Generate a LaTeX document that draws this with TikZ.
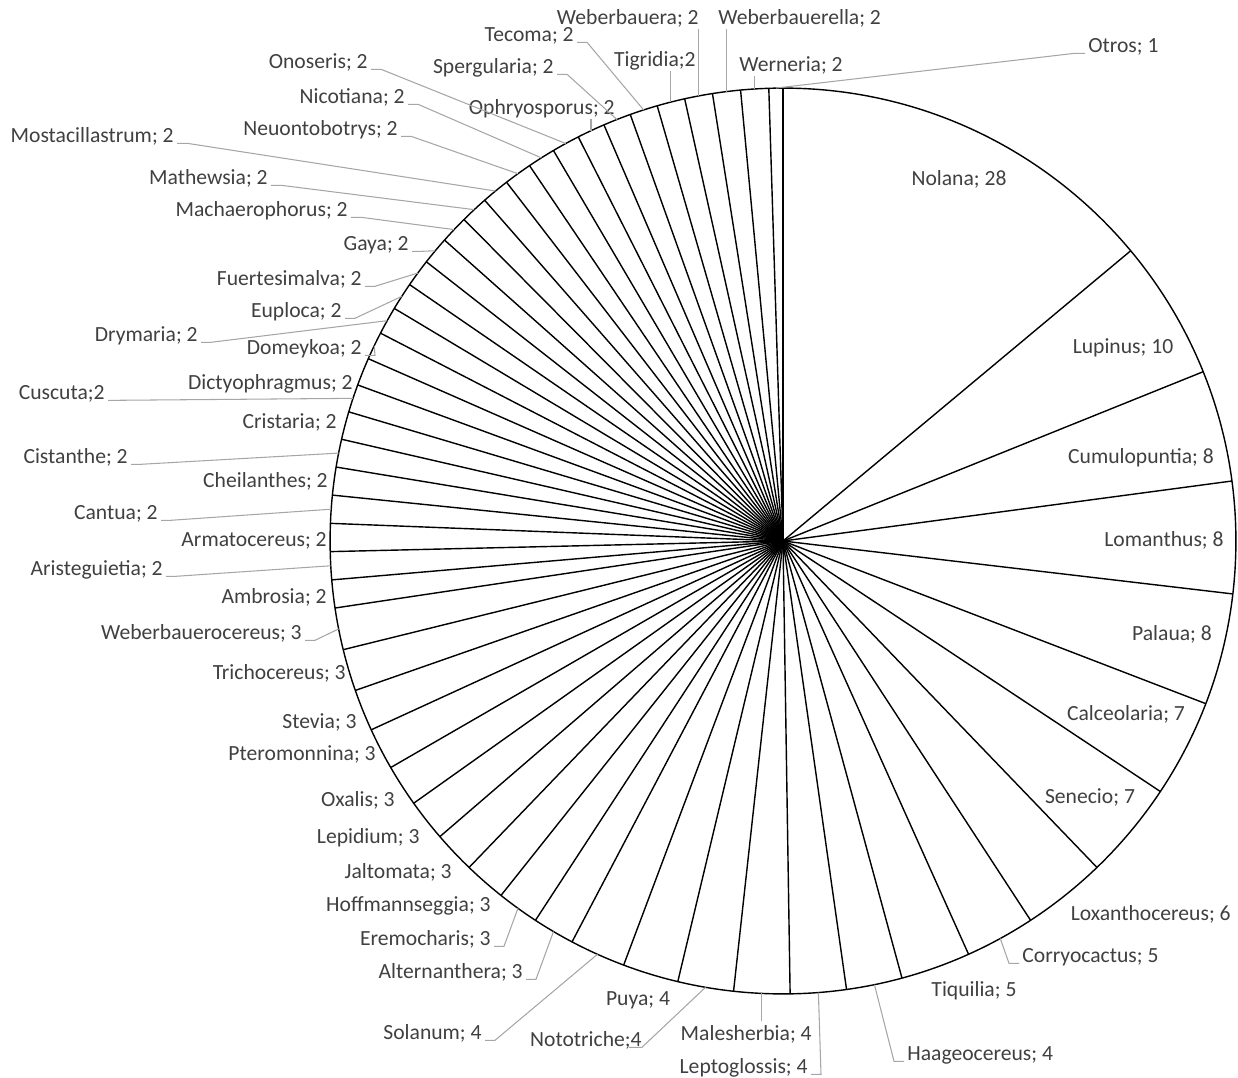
\documentclass[tikz,border=0pt]{standalone}
\usepackage{fontspec}
\setmainfont{Carlito}
\usepackage{xcolor}
\usetikzlibrary{calc}
\definecolor{labelgray}{RGB}{64,64,64}
\definecolor{leadergray}{RGB}{166,166,166}

\begin{document}
\begin{tikzpicture}[
      x=0.02cm, y=-0.02cm,
      lbl/.style={font=\fontsize{12.3}{14}\selectfont, text=labelgray,
        inner sep=0pt, text height=7.9pt, text depth=0pt},
      slice/.style={draw=black, line width=0.8pt},
      leader/.style={draw=leadergray, line width=0.6pt}
    ]
    \useasboundingbox (0,0) rectangle (1238,1078);
    \coordinate (c) at (783,541);

    % pie outline and slice borders (total 201)
    \draw[slice] (c) circle[radius=9.06cm];
    \foreach \s in {0,28,38,46,54,62,69,76,82,87,92,96,100,104,108,112,116,
        119,122,...,146,148,150,...,200} {
      \pgfmathsetmacro\a{-90+\s/201*360}
      \draw[slice] (c) -- ($(c)+(\a:453)$);
    }

    % arc midpoints of the slices that carry a leader
    \foreach \n/\m in {otros/200.5, werneria/199, weberbauerella/197,
        weberbauera/195, tigridia/193, tecoma/191, spergularia/189,
        ophryosporus/187, onoseris/185, nicotiana/183, neuontobotrys/181,
        mostacillastrum/179, mathewsia/177, machaerophorus/175, gaya/173,
        fuertesimalva/171, euploca/169, drymaria/167, domeykoa/165,
        cuscuta/161, cistanthe/157, cantua/153, aristeguietia/149,
        weberbauerocereus/144.5, eremocharis/120.5, alternanthera/117.5,
        solanum/114, nototriche/106, malesherbia/102, leptoglossis/98,
        haageocereus/94, corryocactus/84.5} {
      \pgfmathsetmacro\a{-90+\m/201*360}
      \coordinate (m-\n) at ($(c)+(\a:453)$);
    }

    % labels, right half
    \node[lbl] (nolana) at (959,179) {Nolana; 28};
    \node[lbl] (lupinus) at (1123,347) {Lupinus; 10};
    \node[lbl] (cumulopuntia) at (1141,457) {Cumulopuntia; 8};
    \node[lbl] (lomanthus) at (1164,540) {Lomanthus; 8};
    \node[lbl] (palaua) at (1172,634) {Palaua; 8};
    \node[lbl] (calceolaria) at (1126,714) {Calceolaria; 7};
    \node[lbl] (senecio) at (1090,797) {Senecio; 7};
    \node[lbl, anchor=east] (loxanthocereus) at (1231,914) {Loxanthocereus; 6};
    \node[lbl, anchor=west] (corryocactus) at (1022,956) {Corryocactus; 5};
    \node[lbl] (tiquilia) at (974,990) {Tiquilia; 5};
    \node[lbl, anchor=west] (haageocereus) at (907,1054) {Haageocereus; 4};
    \node[lbl, anchor=east] (leptoglossis) at (808,1067) {Leptoglossis; 4};
    \node[lbl, anchor=east] (malesherbia) at (812,1034) {Malesherbia; 4};

    % labels, left half
    \node[lbl, anchor=east] (nototriche) at (642,1040) {Nototriche;4};
    \node[lbl] (puya) at (638,999) {Puya; 4};
    \node[lbl, anchor=east] (solanum) at (482,1033) {Solanum; 4};
    \node[lbl, anchor=east] (alternanthera) at (523,972) {Alternanthera; 3};
    \node[lbl, anchor=east] (eremocharis) at (491,939) {Eremocharis; 3};
    \node[lbl, anchor=east] (hoffmannseggia) at (491,905) {Hoffmannseggia; 3};
    \node[lbl, anchor=east] (jaltomata) at (452,872) {Jaltomata; 3};
    \node[lbl, anchor=east] (lepidium) at (420,837) {Lepidium; 3};
    \node[lbl, anchor=east] (oxalis) at (395,800) {Oxalis; 3};
    \node[lbl, anchor=east] (pteromonnina) at (376,754) {Pteromonnina; 3};
    \node[lbl, anchor=east] (stevia) at (357,722) {Stevia; 3};
    \node[lbl, anchor=east] (trichocereus) at (346,673) {Trichocereus; 3};
    \node[lbl, anchor=east] (weberbauerocereus) at (302,633) {Weberbauerocereus; 3};
    \node[lbl, anchor=east] (ambrosia) at (327,597) {Ambrosia; 2};
    \node[lbl, anchor=east] (aristeguietia) at (163,569) {Aristeguietia; 2};
    \node[lbl, anchor=east] (armatocereus) at (327,540) {Armatocereus; 2};
    \node[lbl, anchor=east] (cantua) at (158,513) {Cantua; 2};
    \node[lbl, anchor=east] (cheilanthes) at (328,481) {Cheilanthes; 2};
    \node[lbl, anchor=east] (cistanthe) at (128,457) {Cistanthe; 2};
    \node[lbl, anchor=east] (cristaria) at (337,422) {Cristaria; 2};
    \node[lbl, anchor=east] (cuscuta) at (105,393) {Cuscuta;2};
    \node[lbl, anchor=east] (dictyophragmus) at (353,383) {Dictyophragmus; 2};
    \node[lbl, anchor=east] (domeykoa) at (362,348) {Domeykoa; 2};
    \node[lbl, anchor=east] (drymaria) at (198,335) {Drymaria; 2};
    \node[lbl, anchor=east] (euploca) at (342,311) {Euploca; 2};
    \node[lbl, anchor=east] (fuertesimalva) at (362,279) {Fuertesimalva; 2};
    \node[lbl, anchor=east] (gaya) at (409,244) {Gaya; 2};
    \node[lbl, anchor=east] (machaerophorus) at (348,210) {Machaerophorus; 2};
    \node[lbl, anchor=east] (mathewsia) at (268,178) {Mathewsia; 2};
    \node[lbl, anchor=east] (mostacillastrum) at (174,136) {Mostacillastrum; 2};
    \node[lbl, anchor=east] (neuontobotrys) at (398,129) {Neuontobotrys; 2};
    \node[lbl, anchor=east] (nicotiana) at (405,97) {Nicotiana; 2};
    \node[lbl, anchor=east] (onoseris) at (368,62) {Onoseris; 2};

    % labels, top
    \node[lbl, anchor=east] (ophryosporus) at (615,108) {Ophryosporus; 2};
    \node[lbl, anchor=east] (spergularia) at (554,67) {Spergularia; 2};
    \node[lbl, anchor=east] (tecoma) at (574,35) {Tecoma; 2};
    \node[lbl, anchor=east] (tigridia) at (696,60) {Tigridia;2};
    \node[lbl, anchor=east] (weberbauera) at (699,18) {Weberbauera; 2};
    \node[lbl, anchor=west] (weberbauerella) at (718,18) {Weberbauerella; 2};
    \node[lbl, anchor=west] (werneria) at (739,65) {Werneria; 2};
    \node[lbl, anchor=west] (otros) at (1088,46) {Otros; 1};

    % leader lines
    \foreach \n in {onoseris, nicotiana, neuontobotrys, mostacillastrum,
        mathewsia, machaerophorus, gaya, fuertesimalva, euploca, drymaria,
        domeykoa, cuscuta, cistanthe, cantua, aristeguietia,
        weberbauerocereus, eremocharis, alternanthera, solanum, tecoma,
        spergularia, leptoglossis}
      \draw[leader] ($(\n.south east)+(3,0)$) -- ++(10,0) -- (m-\n);
    \foreach \n in {otros, corryocactus, haageocereus}
      \draw[leader] ($(\n.south west)+(-3,0)$) -- ++(-10,0) -- (m-\n);
    \foreach \n in {ophryosporus, tigridia, weberbauera, weberbauerella, werneria}
      \draw[leader] ($(m-\n |- \n.south)+(0,4)$) -- (m-\n);
    \draw[leader] ($(m-malesherbia |- malesherbia.north)+(0,-6)$) -- (m-malesherbia);
    \draw[leader] ($(nototriche.south east)+(-13,0)$) -- ++(13,0) -- (m-nototriche);
  \end{tikzpicture}
\end{document}
